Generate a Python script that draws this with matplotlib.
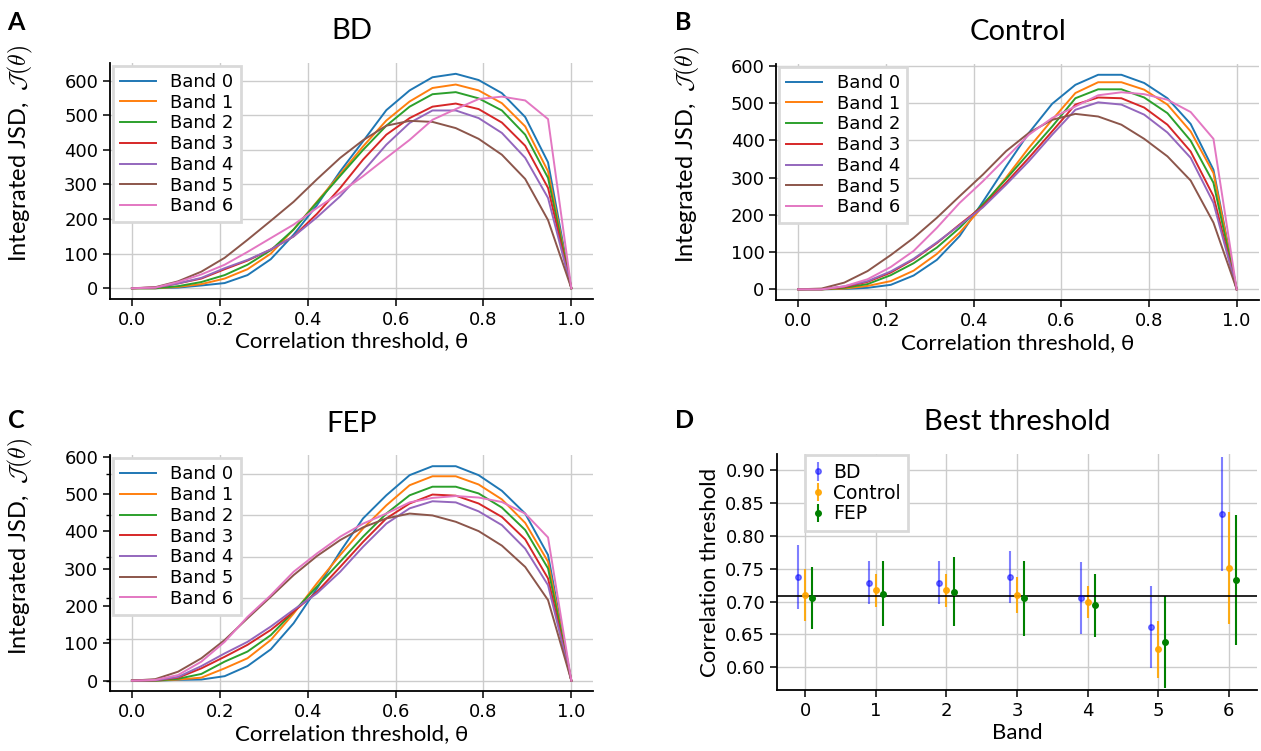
import matplotlib.pyplot as plt
import numpy as np

plt.rcParams['mathtext.fontset'] = 'cm'
plt.rcParams['font.size'] = 13

# thresholds theta (20 samples between 0 and 1)
thresholds = [0.000, 0.053, 0.105, 0.158, 0.211, 0.263, 0.316, 0.368, 0.421, 0.474,
              0.526, 0.579, 0.632, 0.684, 0.737, 0.789, 0.842, 0.895, 0.947, 1.000]
bands = ['Band 0', 'Band 1', 'Band 2', 'Band 3', 'Band 4', 'Band 5', 'Band 6']

# integrated JSD per band, BD group
bd_jsd = [
    [0, 0, 2, 8, 15, 38, 84, 155, 240, 338, 425, 515, 572, 610, 620, 602, 564, 495, 364, 0],
    [0, 0, 4, 12, 28, 55, 100, 170, 250, 330, 410, 485, 540, 579, 589, 572, 535, 468, 338, 0],
    [0, 0, 6, 18, 38, 68, 110, 170, 248, 325, 400, 470, 525, 561, 567, 549, 514, 444, 319, 0],
    [0, 2, 14, 28, 55, 80, 112, 150, 215, 290, 372, 444, 492, 525, 534, 518, 479, 412, 290, 0],
    [0, 2, 14, 30, 58, 82, 112, 150, 205, 266, 338, 415, 478, 514, 514, 492, 449, 377, 261, 0],
    [0, 3, 20, 48, 88, 140, 195, 250, 315, 377, 428, 470, 484, 481, 463, 432, 386, 316, 197, 0],
    [0, 2, 18, 40, 68, 105, 145, 184, 232, 276, 324, 377, 429, 487, 518, 547, 554, 543, 489, 0],
]
# Control group
control_jsd = [
    [0, 0, 1, 4, 12, 37, 79, 143, 235, 330, 420, 498, 549, 576, 576, 554, 513, 444, 321, 0],
    [0, 0, 2, 9, 22, 50, 95, 152, 223, 300, 380, 455, 527, 556, 556, 536, 496, 424, 312, 0],
    [0, 0, 4, 14, 38, 70, 112, 165, 228, 296, 366, 437, 513, 537, 537, 515, 473, 399, 286, 0],
    [0, 0, 6, 20, 45, 80, 124, 174, 223, 286, 353, 424, 496, 515, 513, 488, 442, 370, 250, 0],
    [0, 0, 8, 22, 48, 82, 126, 172, 220, 281, 344, 415, 482, 502, 496, 469, 421, 353, 232, 0],
    [0, 2, 18, 49, 92, 138, 192, 250, 308, 371, 420, 455, 471, 464, 442, 404, 357, 292, 179, 0],
    [0, 0, 8, 27, 60, 103, 165, 232, 290, 353, 415, 460, 491, 521, 529, 524, 509, 476, 404, 0],
]
# FEP group
fep_jsd = [
    [0, 0, 2, 3, 12, 39, 84, 154, 247, 346, 435, 497, 551, 575, 575, 551, 509, 448, 337, 0],
    [0, 0, 3, 8, 33, 60, 109, 180, 261, 337, 408, 470, 524, 548, 548, 526, 486, 423, 319, 0],
    [0, 0, 5, 18, 51, 78, 122, 185, 252, 319, 386, 448, 497, 520, 520, 502, 464, 404, 301, 0],
    [0, 1, 8, 33, 64, 96, 136, 185, 238, 305, 372, 435, 475, 499, 496, 475, 439, 379, 274, 0],
    [0, 1, 10, 39, 73, 104, 145, 190, 234, 292, 359, 421, 462, 481, 478, 454, 417, 354, 256, 0],
    [0, 4, 24, 60, 109, 167, 225, 283, 334, 377, 411, 435, 448, 443, 426, 401, 362, 305, 216, 0],
    [0, 2, 15, 51, 104, 171, 229, 292, 341, 386, 421, 448, 478, 490, 495, 491, 479, 448, 384, 0],
]

# best threshold per band (mean, std)
band_idx = [0, 1, 2, 3, 4, 5, 6]
bd_best = [0.737, 0.729, 0.729, 0.737, 0.706, 0.661, 0.834]
bd_err = [0.049, 0.033, 0.033, 0.040, 0.055, 0.062, 0.087]
control_best = [0.710, 0.717, 0.717, 0.710, 0.699, 0.627, 0.751]
control_err = [0.039, 0.025, 0.025, 0.027, 0.024, 0.043, 0.086]
fep_best = [0.705, 0.712, 0.715, 0.705, 0.694, 0.638, 0.733]
fep_err = [0.047, 0.050, 0.053, 0.057, 0.048, 0.070, 0.099]
overall_best = 0.708

lato = ['Lato', 'DejaVu Sans']
grid_col = '#cccccc'


def style_axes(ax):
    for s in ['top', 'right']:
        ax.spines[s].set_visible(False)
    for s in ['left', 'bottom']:
        ax.spines[s].set_linewidth(1.3)
    ax.tick_params(direction='out', length=5, width=1.1, labelsize=13)
    ax.grid(True, color=grid_col, lw=1)
    ax.set_axisbelow(True)


def frame_legend(leg):
    leg.get_frame().set_edgecolor('#d9d9d9')
    leg.get_frame().set_linewidth(2)


fig = plt.figure(figsize=(12.61, 7.51), dpi=100)
axA = fig.add_axes([0.0872, 0.6019, 0.3833, 0.3141])
axB = fig.add_axes([0.6157, 0.6005, 0.3824, 0.3142])
posC = [0.0872, 0.0794, 0.3833, 0.3141]
# hidden helper axes behind C: its grid sits off the tick marks in the original
axC_grid = fig.add_axes(posC)
axC = fig.add_axes(posC)
axD = fig.add_axes([0.6162, 0.0812, 0.3807, 0.3142])

for ax, data, title in [(axA, bd_jsd, 'BD'),
                        (axB, control_jsd, 'Control'),
                        (axC, fep_jsd, 'FEP')]:
    style_axes(ax)
    for k, vals in enumerate(data):
        ax.plot(thresholds, vals, color='C%d' % k, lw=1.4, label=bands[k])
    ax.set_xticks([0.0, 0.2, 0.4, 0.6, 0.8, 1.0])
    ax.set_yticks([0, 100, 200, 300, 400, 500, 600])
    ax.set_title(title, fontsize=21, family=lato, pad=17)
    ax.set_xlabel('Correlation threshold, θ', fontsize=16, family=lato, labelpad=2)
    ax.set_ylabel(r'Integrated JSD,  $\mathcal{J}(\theta)$', fontsize=17, family=lato)
    ax.yaxis.set_label_coords(-0.155, 0.615)
    leg = ax.legend(loc='upper left', fontsize=13, labelspacing=0.15,
                    handlelength=2.0, handletextpad=0.8, borderaxespad=0.15,
                    fancybox=False, framealpha=1)
    frame_legend(leg)

# C: horizontal grid comes from the helper axes
axC.yaxis.grid(False)
axC.patch.set_visible(False)
axC_grid.set_xlim(axC.get_xlim())
axC_grid.set_ylim(-26, 545)
axC_grid.set_yticks([0, 100, 200, 300, 400, 500])
axC_grid.set_xticks([])
axC_grid.yaxis.grid(True, color=grid_col, lw=1)
axC_grid.tick_params(axis='y', direction='out', length=3, width=1, labelleft=False)
for s in ['top', 'right', 'bottom']:
    axC_grid.spines[s].set_visible(False)

# panel D
style_axes(axD)
axD.errorbar(np.array(band_idx) - 0.1, bd_best, yerr=bd_err, fmt='o', ms=4,
             color='blue', alpha=0.5, elinewidth=1.5, label='BD')
axD.errorbar(band_idx, control_best, yerr=control_err, fmt='o', ms=4,
             color='orange', alpha=0.9, elinewidth=1.5, label='Control')
axD.errorbar(np.array(band_idx) + 0.1, fep_best, yerr=fep_err, fmt='o', ms=4,
             color='green', elinewidth=1.5, label='FEP')
axD.axhline(overall_best, color='black', lw=1.2)
axD.set_xlim(-0.4, 6.4)
axD.set_ylim(0.565, 0.925)
axD.set_xticks(band_idx)
axD.set_yticks([0.60, 0.65, 0.70, 0.75, 0.80, 0.85, 0.90])
axD.set_title('Best threshold', fontsize=21, family=lato, pad=17)
axD.set_xlabel('Band', fontsize=16, family=lato, labelpad=2)
axD.set_ylabel('Correlation threshold', fontsize=16, family=lato)
leg = axD.legend(loc='upper left', bbox_to_anchor=(0.058, 0.995), borderaxespad=0,
                 fontsize=13.5, labelspacing=0.1, handlelength=0.6,
                 handletextpad=0.5, fancybox=False, framealpha=1)
frame_legend(leg)

# panel letters
for x, y, s in [(0.006, 0.985, 'A'), (0.535, 0.985, 'B'),
                (0.006, 0.455, 'C'), (0.535, 0.455, 'D')]:
    fig.text(x, y, s, fontsize=18, fontweight='bold', family=lato, va='top')

fig.savefig('out.png', dpi=100)
